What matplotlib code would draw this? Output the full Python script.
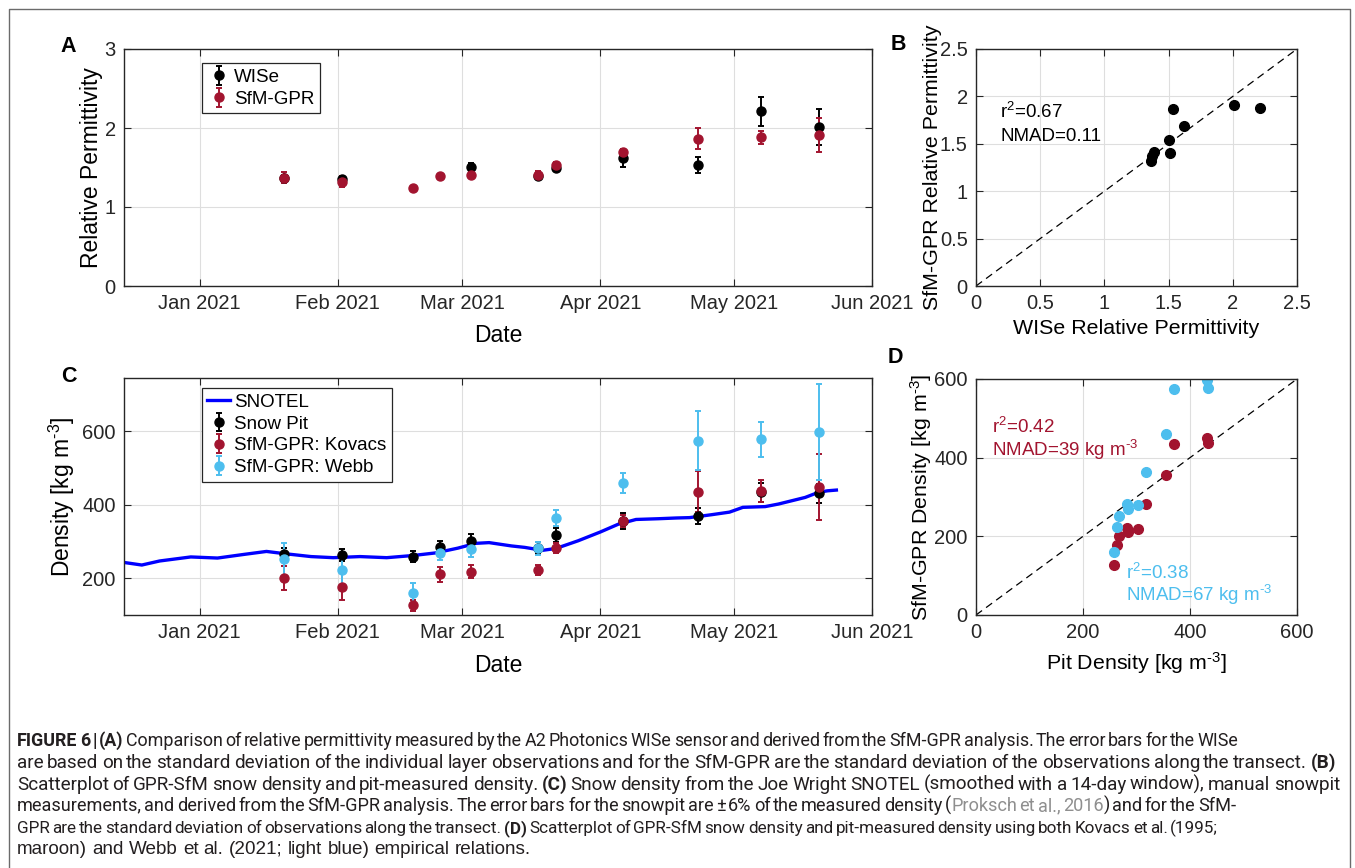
import matplotlib
matplotlib.use("Agg")
import matplotlib.pyplot as plt
import matplotlib.dates as mdates
from matplotlib.lines import Line2D
import numpy as np
from datetime import datetime

plt.rcParams['font.family'] = ['Liberation Sans', 'DejaVu Sans']
plt.rcParams['mathtext.fontset'] = 'custom'
plt.rcParams['mathtext.rm'] = 'Liberation Sans'
plt.rcParams['mathtext.it'] = 'Liberation Sans:italic'

# ---------------------------------------------------------------------------
# Data
# ---------------------------------------------------------------------------

# permittivity survey dates (panel A); nan = no WISe measurement that day
perm_dates = ["2021-01-20", "2021-02-02", "2021-02-18", "2021-02-24", "2021-03-03",
              "2021-03-18", "2021-03-22", "2021-04-06", "2021-04-23", "2021-05-07",
              "2021-05-20"]
wise_perm = [1.37, 1.36, np.nan, np.nan, 1.51, 1.39, 1.50, 1.62, 1.535, 2.21, 2.01]
wise_err = [0.03, 0.03, np.nan, np.nan, 0.05, 0.04, 0.05, 0.11, 0.10, 0.18, 0.23]
sfm_perm = [1.37, 1.32, 1.24, 1.39, 1.40, 1.41, 1.535, 1.69, 1.865, 1.88, 1.91]
sfm_err = [0.07, 0.07, 0.03, 0.03, 0.03, 0.04, 0.04, 0.04, 0.13, 0.08, 0.22]

# density survey dates (panel C) - same field days
dens_dates = perm_dates
pit_density = [267, 263, 258, 285, 302, 282, 318, 356, 370, 434, 431]
pit_err = [16, 16, 15, 17, 18, 17, 19, 21, 22, 26, 26]
kovacs_density = [200, 177, 127, 211, 218, 222, 282, 356, 435, 437, 449]
kovacs_err = [33, 36, 15, 20, 17, 13, 14, 16, 56, 30, 90]
webb_density = [252, 223, 161, 269, 279, 282, 364, 459, 574, 578, 598]
webb_err = [45, 40, 27, 20, 20, 18, 22, 27, 80, 48, 130]

# smoothed SNOTEL density
snotel_dates = ["2020-12-15", "2020-12-19", "2020-12-23", "2020-12-30", "2021-01-05",
                "2021-01-11", "2021-01-16", "2021-01-20", "2021-01-26", "2021-01-31",
                "2021-02-06", "2021-02-12", "2021-02-18", "2021-02-23", "2021-02-28",
                "2021-03-04", "2021-03-07", "2021-03-12", "2021-03-15", "2021-03-19",
                "2021-03-22", "2021-03-27", "2021-04-01", "2021-04-05", "2021-04-09",
                "2021-04-14", "2021-04-18", "2021-04-21", "2021-04-26", "2021-04-30",
                "2021-05-03", "2021-05-08", "2021-05-11", "2021-05-14", "2021-05-17",
                "2021-05-20", "2021-05-22", "2021-05-24"]
snotel_density = [243, 236, 247, 258, 255, 265, 273, 267, 259, 256,
                  259, 256, 262, 269, 282, 295, 297, 288, 284, 276,
                  281, 302, 326, 347, 360, 362, 364, 365, 373, 380,
                  393, 395, 402, 411, 420, 434, 438, 440]

# ---------------------------------------------------------------------------
# Figure layout (pixel boxes on a 1355 x 868 canvas)
# ---------------------------------------------------------------------------

W, H = 1355, 868
MAROON = '#A2142F'
SKY = '#4DBEEE'
INK = '#262626'
LABEL_SIZE = 16.5      # time-series panels
SCATTER_LABEL = 15.4   # scatter panels
KGM3 = r'kg m$^{\text{-3}}$'

fig = plt.figure(figsize=(W / 100, H / 100), dpi=100)


def box(left, top, right, bottom):
    return [left / W, 1 - bottom / H, (right - left) / W, (bottom - top) / H]


def style_axes(ax):
    ax.tick_params(direction='in', top=True, right=True, length=5, width=0.8,
                   labelsize=14.5, colors=INK, pad=6)
    for s in ax.spines.values():
        s.set_color(INK)
        s.set_linewidth(1.0)
    ax.grid(True, color='#dedede', lw=0.8)
    ax.set_axisbelow(True)


def date_axis(ax):
    ax.set_xlim(datetime(2020, 12, 15), datetime(2021, 6, 1))
    ax.xaxis.set_major_locator(mdates.MonthLocator())
    ax.xaxis.set_major_formatter(mdates.DateFormatter('%b %Y'))


def legend(ax, y):
    leg = ax.legend(loc='upper left', bbox_to_anchor=(0.104, y), fontsize=13.5,
                    frameon=True, fancybox=False, edgecolor=INK, framealpha=1,
                    handlelength=1.2, handletextpad=0.2, borderpad=0.3,
                    labelspacing=0.25, borderaxespad=0)
    leg.get_frame().set_linewidth(0.9)


def to_dt(days):
    return [datetime.strptime(d, "%Y-%m-%d") for d in days]


eb = dict(fmt='o', ms=6.5, capsize=2.5, elinewidth=1.4, capthick=1.4)

# --- A: permittivity through time
axA = fig.add_axes(box(124, 49, 872, 286))
style_axes(axA)
pd_ = np.array(to_dt(perm_dates))
wise = np.array(wise_perm)
has_wise = ~np.isnan(wise)
axA.errorbar(pd_[has_wise], wise[has_wise], yerr=np.array(wise_err)[has_wise],
             color='black', label='WISe', **eb)
axA.errorbar(pd_, sfm_perm, yerr=sfm_err, color=MAROON, label='SfM-GPR', **eb)
date_axis(axA)
axA.set_ylim(0, 3)
axA.set_yticks([0, 1, 2, 3])
axA.set_ylabel('Relative Permittivity', fontsize=LABEL_SIZE)
axA.set_xlabel('Date', fontsize=LABEL_SIZE)
axA.yaxis.set_label_coords(-0.028, 0.5)
axA.xaxis.set_label_coords(0.5, -0.162)
legend(axA, 0.94)

# --- B: WISe vs SfM-GPR permittivity
axB = fig.add_axes(box(976, 49, 1297, 286))
style_axes(axB)
axB.plot([0, 2.5], [0, 2.5], color='black', lw=0.9, dashes=(6, 4))
axB.plot(wise[has_wise], np.array(sfm_perm)[has_wise], 'o', color='black', ms=7)
axB.set_xlim(0, 2.5)
axB.set_ylim(0, 2.5)
axB.set_xticks(np.arange(0, 2.51, 0.5))
axB.set_yticks(np.arange(0, 2.51, 0.5))
axB.set_xticklabels(['0', '0.5', '1', '1.5', '2', '2.5'])
axB.set_yticklabels(['0', '0.5', '1', '1.5', '2', '2.5'])
axB.set_xlabel('WISe Relative Permittivity', fontsize=SCATTER_LABEL)
axB.set_ylabel('SfM-GPR Relative Permittivity', fontsize=SCATTER_LABEL)
axB.yaxis.set_label_coords(-0.106, 0.5)
axB.xaxis.set_label_coords(0.5, -0.138)
axB.text(0.19, 1.84, r'r$^2$=0.67', fontsize=13.5, va='center', color='black')
axB.text(0.19, 1.58, 'NMAD=0.11', fontsize=13.5, va='center', color='black')

# --- C: density through time
axC = fig.add_axes(box(124, 378, 872, 615))
style_axes(axC)
dd = to_dt(dens_dates)
axC.plot(to_dt(snotel_dates), snotel_density, color='#0000FF', lw=2.4, label='SNOTEL')
axC.errorbar(dd, pit_density, yerr=pit_err, color='black', label='Snow Pit', **eb)
axC.errorbar(dd, kovacs_density, yerr=kovacs_err, color=MAROON,
             label='SfM-GPR: Kovacs', **eb)
axC.errorbar(dd, webb_density, yerr=webb_err, color=SKY, label='SfM-GPR: Webb', **eb)
date_axis(axC)
axC.set_ylim(100, 745)
axC.set_yticks([200, 400, 600])
axC.set_ylabel('Density [' + KGM3 + ']', fontsize=LABEL_SIZE)
axC.set_xlabel('Date', fontsize=LABEL_SIZE)
axC.yaxis.set_label_coords(-0.063, 0.5)
axC.xaxis.set_label_coords(0.5, -0.163)
legend(axC, 0.958)

# --- D: pit density vs SfM-GPR density
axD = fig.add_axes(box(976, 379, 1297, 615))
style_axes(axD)
axD.plot([0, 600], [0, 600], color='black', lw=0.9, dashes=(6, 4))
axD.plot(pit_density, kovacs_density, 'o', color=MAROON, ms=7)
axD.plot(pit_density, webb_density, 'o', color=SKY, ms=7)
axD.set_xlim(0, 600)
axD.set_ylim(0, 600)
axD.set_xticks([0, 200, 400, 600])
axD.set_yticks([0, 200, 400, 600])
axD.set_xlabel('Pit Density [' + KGM3 + ']', fontsize=SCATTER_LABEL)
axD.set_ylabel('SfM-GPR Density [' + KGM3 + ']', fontsize=SCATTER_LABEL)
axD.yaxis.set_label_coords(-0.131, 0.5)
axD.xaxis.set_label_coords(0.5, -0.148)
axD.text(29, 479, r'r$^2$=0.42', fontsize=13.5, va='center', color=MAROON)
axD.text(29, 419, 'NMAD=39 ' + KGM3, fontsize=13.5, va='center', color=MAROON)
axD.text(281, 108, r'r$^2$=0.38', fontsize=13.5, va='center', color=SKY)
axD.text(281, 50, 'NMAD=67 ' + KGM3, fontsize=13.5, va='center', color=SKY)

# panel letters
for letter, (px, py) in zip('ABCD', [(68, 47), (898, 44), (69, 377), (895, 357)]):
    fig.text(px / W, 1 - py / H, letter, fontsize=15.5, weight='bold',
             ha='center', va='center', color='black')

# outer frame (open at the bottom edge of the canvas)
fig.add_artist(Line2D([9 / W, 9 / W, 1350 / W, 1350 / W], [0, 1 - 9 / H, 1 - 9 / H, 0],
                      transform=fig.transFigure, color='#6b6b6b', lw=1))

# ---------------------------------------------------------------------------
# Caption, typeset word by word so that lines can be justified
# ---------------------------------------------------------------------------

TXT = '#231F20'
GREY = '#8f8f8f'
CAP_SIZE = 13.6
REGULAR = ['Liberation Sans', 'DejaVu Sans']
NARROW = ['Roboto', 'Liberation Sans', 'DejaVu Sans']
renderer = fig.canvas.get_renderer()

caption = [
    ([("FIGURE 6 | (A)", 'bold', TXT),
      (" Comparison of relative permittivity measured by the A2 Photonics WISe sensor "
       "and derived from the SfM-GPR analysis. The error bars for the WISe", 'normal', TXT)], 1238),
    ([("are based on the standard deviation of the individual layer observations and for "
       "the SfM-GPR are the standard deviation of the observations along the transect. ", 'normal', TXT),
      ("(B)", 'bold', TXT)], 1336),
    ([("Scatterplot of GPR-SfM snow density and pit-measured density. ", 'normal', TXT),
      ("(C)", 'bold', TXT),
      (" Snow density from the Joe Wright SNOTEL (smoothed with a 14-day window), manual snowpit",
       'normal', TXT)], 1340),
    ([("measurements, and derived from the SfM-GPR analysis. The error bars for the snowpit "
       "are \u00b1 6% of the measured density (", 'normal', TXT),
      ("Proksch et al., 2016", 'normal', GREY),
      (") and for the SfM-", 'normal', TXT)], 1236),
    ([("GPR are the standard deviation of observations along the transect. ", 'normal', TXT),
      ("(D)", 'bold', TXT),
      (" Scatterplot of GPR-SfM snow density and pit-measured density using both Kovacs et al. (1995;",
       'normal', TXT)], 1218),
    ([("maroon) and Webb et al. (2021; light blue) empirical relations.", 'normal', TXT)], None),
]


def split_words(runs):
    words = []
    glue = False
    for text, weight, color in runs:
        parts = text.split(' ')
        for i, p in enumerate(parts):
            if i > 0:
                glue = False
            if p == '':
                continue
            if glue and words:
                words[-1].append((p, weight, color))
            else:
                words.append([(p, weight, color)])
            glue = True
        if text.endswith(' '):
            glue = False
    return words


def text_width(s, weight, family, size):
    t = fig.text(0, 0, s, fontsize=size, weight=weight, family=family)
    w = t.get_window_extent(renderer).width
    t.remove()
    return w


def measure(words, family, size):
    widths = [[text_width(p, wt, family, size) for p, wt, _ in w] for w in words]
    space = text_width('x x', 'normal', family, size) - text_width('xx', 'normal', family, size)
    total = sum(sum(ws) for ws in widths)
    return widths, space, total


x_start = 17
line_y = [741, 763, 785, 806, 828, 849]

for (runs, target), yc in zip(caption, line_y):
    words = split_words(runs)
    family, size = REGULAR, CAP_SIZE
    widths, space, total = measure(words, family, size)
    if target is not None:
        avail = target - x_start
        if total + space * (len(words) - 1) > avail:
            family = NARROW
            widths, space, total = measure(words, family, size)
        while total + 0.45 * space * (len(words) - 1) > avail:
            size -= 0.1
            widths, space, total = measure(words, family, size)
        gap = (avail - total) / (len(words) - 1)
    else:
        gap = space
    x = x_start
    yb = H - yc - 5
    for w, ws in zip(words, widths):
        for (p, wt, col), pw in zip(w, ws):
            fig.text(x / W, yb / H, p, fontsize=size, weight=wt, color=col,
                     family=family, va='baseline', ha='left')
            x += pw
        x += gap

fig.savefig('out.png', dpi=100, facecolor='white')
